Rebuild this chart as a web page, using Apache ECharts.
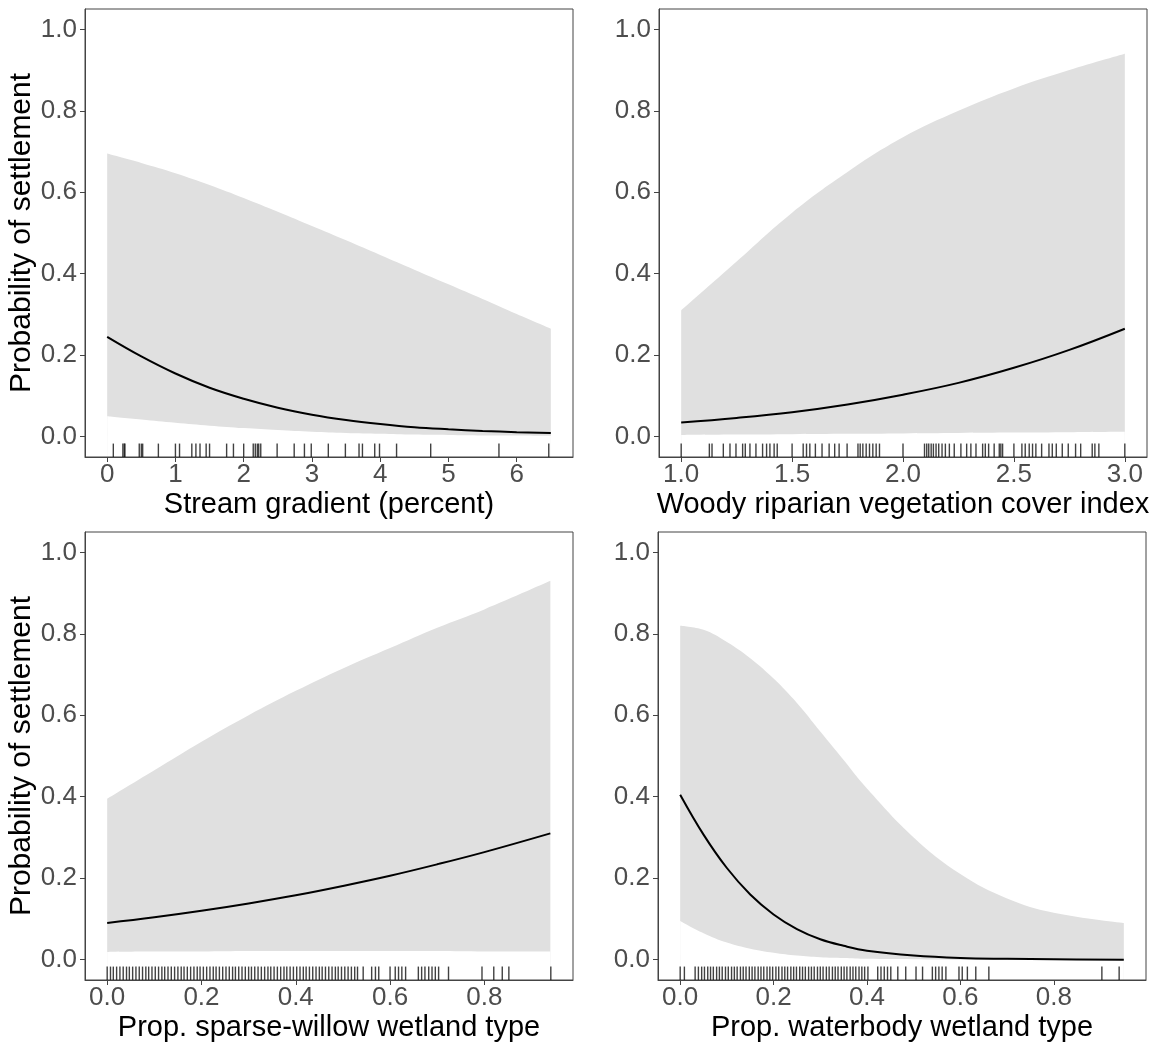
<!DOCTYPE html>
<html>
<head>
<meta charset="utf-8">
<script src="https://cdn.jsdelivr.net/npm/echarts@6/dist/echarts.min.js"></script>
<style>
    html, body { margin: 0; padding: 0; background: #fff; }
    #chart { width: 1153px; height: 1042px; }
</style>
</head>
<body>
<div id="chart"></div>
<script>
var yTicks = [0, 0.2, 0.4, 0.6, 0.8, 1.0];

// stream gradient
var gradX = [0, 0.5, 1, 1.5, 2, 2.5, 3, 3.5, 4, 4.5, 5, 5.5, 6, 6.5];
var gradFit = [0.245, 0.197, 0.155, 0.12, 0.093, 0.071, 0.054, 0.041, 0.031, 0.023, 0.018, 0.014, 0.011, 0.009];
var gradLow = [0.050, 0.042, 0.034, 0.027, 0.021, 0.016, 0.012, 0.009, 0.007, 0.005, 0.004, 0.003, 0.003, 0.002];
var gradHigh = [0.695, 0.672, 0.647, 0.618, 0.586, 0.552, 0.517, 0.482, 0.446, 0.41, 0.374, 0.338, 0.301, 0.265];
var gradRug = [0.09, 0.23, 0.25, 0.26, 0.47, 0.50, 0.52, 0.75, 1.0, 1.06, 1.24, 1.30, 1.36, 1.45, 1.50, 1.75, 1.85, 2.0,
    2.14, 2.17, 2.2, 2.22, 2.25, 2.49, 2.74, 2.89, 2.99, 3.24, 3.49, 3.69, 3.74, 3.92, 3.99, 4.24, 4.74, 5.74, 6.47];
var gradTicks = [0, 1, 2, 3, 4, 5, 6];

// woody riparian vegetation
var woodyX = [1.0, 1.25, 1.5, 1.75, 2.0, 2.25, 2.5, 2.75, 3.0];
var woodyFit = [0.035, 0.046, 0.060, 0.079, 0.103, 0.132, 0.169, 0.213, 0.265];
var woodyLow = [0.004, 0.005, 0.006, 0.007, 0.008, 0.009, 0.010, 0.011, 0.012];
var woodyHigh = [0.31, 0.43, 0.55, 0.65, 0.735, 0.80, 0.855, 0.90, 0.94];
var woodyRug = [1.000, 1.127, 1.139, 1.190, 1.220, 1.247, 1.277, 1.289, 1.310, 1.337, 1.367, 1.385, 1.400, 1.419, 1.433,
    1.500, 1.550, 1.565, 1.580, 1.605, 1.635, 1.667, 1.692, 1.712, 1.748, 1.797, 1.807, 1.819, 1.834, 1.849, 1.864, 1.879,
    1.894, 2.000, 2.097, 2.107, 2.116, 2.127, 2.137, 2.149, 2.161, 2.176, 2.191, 2.209, 2.231, 2.261, 2.287, 2.306, 2.329,
    2.359, 2.371, 2.386, 2.411, 2.434, 2.441, 2.449, 2.500, 2.536, 2.551, 2.569, 2.584, 2.599, 2.625, 2.658, 2.673, 2.691,
    2.718, 2.745, 2.778, 2.801, 2.853, 2.865, 2.883, 3.000];
var woodyTicks = [1.0, 1.5, 2.0, 2.5, 3.0];

// sparse-willow wetland
var willowX = [0, 0.1, 0.2, 0.3, 0.4, 0.5, 0.6, 0.7, 0.8, 0.94];
var willowFit = [0.090, 0.104, 0.120, 0.138, 0.158, 0.181, 0.206, 0.234, 0.264, 0.310];
var willowLow = [0.019, 0.020, 0.020, 0.021, 0.021, 0.021, 0.021, 0.021, 0.020, 0.020];
var willowHigh = [0.395, 0.465, 0.535, 0.60, 0.66, 0.715, 0.765, 0.815, 0.86, 0.93];
var willowRug = [0.000, 0.007, 0.013, 0.020, 0.027, 0.034, 0.041, 0.047, 0.054, 0.061, 0.068, 0.075, 0.082, 0.088, 0.095,
    0.102, 0.109, 0.116, 0.122, 0.129, 0.136, 0.143, 0.150, 0.157, 0.163, 0.170, 0.177, 0.184, 0.191, 0.197, 0.204, 0.211,
    0.218, 0.225, 0.231, 0.238, 0.245, 0.252, 0.259, 0.266, 0.272, 0.279, 0.286, 0.293, 0.300, 0.306, 0.313, 0.320, 0.327,
    0.334, 0.341, 0.347, 0.354, 0.361, 0.368, 0.375, 0.381, 0.388, 0.395, 0.402, 0.409, 0.416, 0.422, 0.429, 0.436, 0.443,
    0.450, 0.456, 0.463, 0.470, 0.477, 0.484, 0.490, 0.497, 0.504, 0.511, 0.518, 0.525, 0.531, 0.543, 0.561, 0.569, 0.576,
    0.600, 0.611, 0.618, 0.625, 0.633, 0.660, 0.667, 0.674, 0.682, 0.689, 0.696, 0.703, 0.724, 0.795, 0.820, 0.838, 0.852,
    0.941];
var willowTicks = [0, 0.2, 0.4, 0.6, 0.8];

// waterbody wetland
var waterX = [0, 0.05, 0.1, 0.15, 0.2, 0.25, 0.3, 0.35, 0.4, 0.5, 0.6, 0.7, 0.8, 0.95];
var waterFit = [0.405, 0.307, 0.225, 0.160, 0.111, 0.075, 0.050, 0.034, 0.022, 0.010, 0.004, 0.002, 0.001, 0.000];
var waterLow = [0.095, 0.065, 0.042, 0.027, 0.017, 0.010, 0.006, 0.004, 0.002, 0.001, 0.000, 0.000, 0.000, 0.000];
var waterHigh = [0.82, 0.81, 0.78, 0.74, 0.69, 0.63, 0.56, 0.49, 0.42, 0.30, 0.21, 0.15, 0.115, 0.09];
var waterRug = [0.000, 0.009, 0.032, 0.039, 0.046, 0.052, 0.059, 0.065, 0.071, 0.078, 0.084, 0.090, 0.097, 0.103, 0.110,
    0.116, 0.122, 0.129, 0.135, 0.141, 0.148, 0.154, 0.160, 0.167, 0.173, 0.179, 0.186, 0.192, 0.198, 0.205, 0.211, 0.218,
    0.224, 0.230, 0.237, 0.243, 0.249, 0.256, 0.262, 0.268, 0.275, 0.281, 0.287, 0.294, 0.300, 0.306, 0.313, 0.319, 0.326,
    0.332, 0.338, 0.345, 0.351, 0.357, 0.364, 0.370, 0.376, 0.383, 0.389, 0.395, 0.402, 0.423, 0.430, 0.437, 0.444, 0.451,
    0.466, 0.483, 0.505, 0.519, 0.540, 0.547, 0.554, 0.561, 0.569, 0.597, 0.604, 0.615, 0.633, 0.661, 0.903, 0.940];
var waterTicks = [0, 0.2, 0.4, 0.6, 0.8];

(function () {
    'use strict';

    var FONT = '"Liberation Sans", Arial, sans-serif';
    var YMIN = -0.05, YMAX = 1.05;

    var panels = [
        { x: gradX, fit: gradFit, low: gradLow, high: gradHigh, rug: gradRug, ticks: gradTicks, digits: 0,
            title: 'Stream gradient (percent)', yTitle: true, grid: { left: 85, top: 9 } },
        { x: woodyX, fit: woodyFit, low: woodyLow, high: woodyHigh, rug: woodyRug, ticks: woodyTicks, digits: 1,
            title: 'Woody riparian vegetation cover index', yTitle: false, grid: { left: 659, top: 9 } },
        { x: willowX, fit: willowFit, low: willowLow, high: willowHigh, rug: willowRug, ticks: willowTicks, digits: 1,
            title: 'Prop. sparse-willow wetland type', yTitle: true, grid: { left: 85, top: 532 } },
        { x: waterX, fit: waterFit, low: waterLow, high: waterHigh, rug: waterRug, ticks: waterTicks, digits: 1,
            title: 'Prop. waterbody wetland type', yTitle: false, grid: { left: 658, top: 532 } }
    ];

    var grids = [], xAxes = [], yAxes = [], series = [];

    panels.forEach(function (p, i) {
        var lo = Math.min(p.x[0], p.rug[0]);
        var hi = Math.max(p.x[p.x.length - 1], p.rug[p.rug.length - 1]);
        var pad = (hi - lo) * 0.05;

        grids.push({
            left: p.grid.left, top: p.grid.top, width: 488, height: 448,
            outerBoundsMode: 'none',
            show: true, borderColor: '#444', borderWidth: 1, backgroundColor: 'transparent', z: 3
        });

        xAxes.push({
            gridIndex: i, type: 'value', min: lo - pad, max: hi + pad, z: 3,
            axisLine: { show: true, onZero: false, lineStyle: { color: '#444', width: 1 } },
            axisTick: { show: true, length: 5, customValues: p.ticks, lineStyle: { color: '#444' } },
            axisLabel: {
                customValues: p.ticks, color: '#4d4d4d', fontSize: 26, fontFamily: FONT, margin: 5,
                formatter: fmt(p.digits)
            },
            splitLine: { show: false },
            name: p.title, nameLocation: 'middle', nameGap: 33,
            nameTextStyle: { color: '#000', fontSize: 29, fontFamily: FONT }
        });

        yAxes.push({
            gridIndex: i, type: 'value', min: YMIN, max: YMAX, z: 3,
            axisLine: { show: true, onZero: false, lineStyle: { color: '#444', width: 1 } },
            axisTick: { show: true, length: 5, customValues: yTicks, lineStyle: { color: '#444' } },
            axisLabel: {
                customValues: yTicks, color: '#4d4d4d', fontSize: 26, fontFamily: FONT, margin: 8,
                formatter: fmt(1)
            },
            splitLine: { show: false },
            name: p.yTitle ? 'Probability of settlement' : '', nameLocation: 'middle', nameRotate: 90, nameGap: 47,
            nameTextStyle: { color: '#000', fontSize: 30, fontFamily: FONT }
        });

        // upper band in grey, then the part under the lower bound painted white again
        series.push(areaSeries(i, pairs(p.x, p.high), '#e0e0e0'));
        series.push(areaSeries(i, pairs(p.x, p.low), '#ffffff'));

        series.push({
            type: 'line', xAxisIndex: i, yAxisIndex: i, data: pairs(p.x, p.fit),
            smooth: 0.4, symbol: 'none', silent: true, z: 4,
            lineStyle: { color: '#000', width: 2 }
        });

        series.push({
            type: 'scatter', xAxisIndex: i, yAxisIndex: i, silent: true, z: 4,
            data: p.rug.map(function (v) { return [v, YMIN + 0.0165]; }),
            symbol: 'rect', symbolSize: [1.4, 13.4],
            itemStyle: { color: '#111' }
        });
    });

    var chart = echarts.init(document.getElementById('chart'), null, { renderer: 'canvas' });
    chart.setOption({
        backgroundColor: '#fff',
        animation: false,
        grid: grids,
        xAxis: xAxes,
        yAxis: yAxes,
        series: series
    });

    function areaSeries(i, data, color) {
        return {
            type: 'line', xAxisIndex: i, yAxisIndex: i, data: data,
            smooth: 0.4, symbol: 'none', silent: true, z: 1,
            lineStyle: { width: 0, opacity: 0 },
            areaStyle: { color: color, opacity: 1, origin: 'start' }
        };
    }

    function pairs(xs, ys) {
        return xs.map(function (x, k) { return [x, ys[k]]; });
    }

    function fmt(digits) {
        return function (v) {
            return Number(v).toFixed(digits);
        };
    }
})();
</script>
</body>
</html>
